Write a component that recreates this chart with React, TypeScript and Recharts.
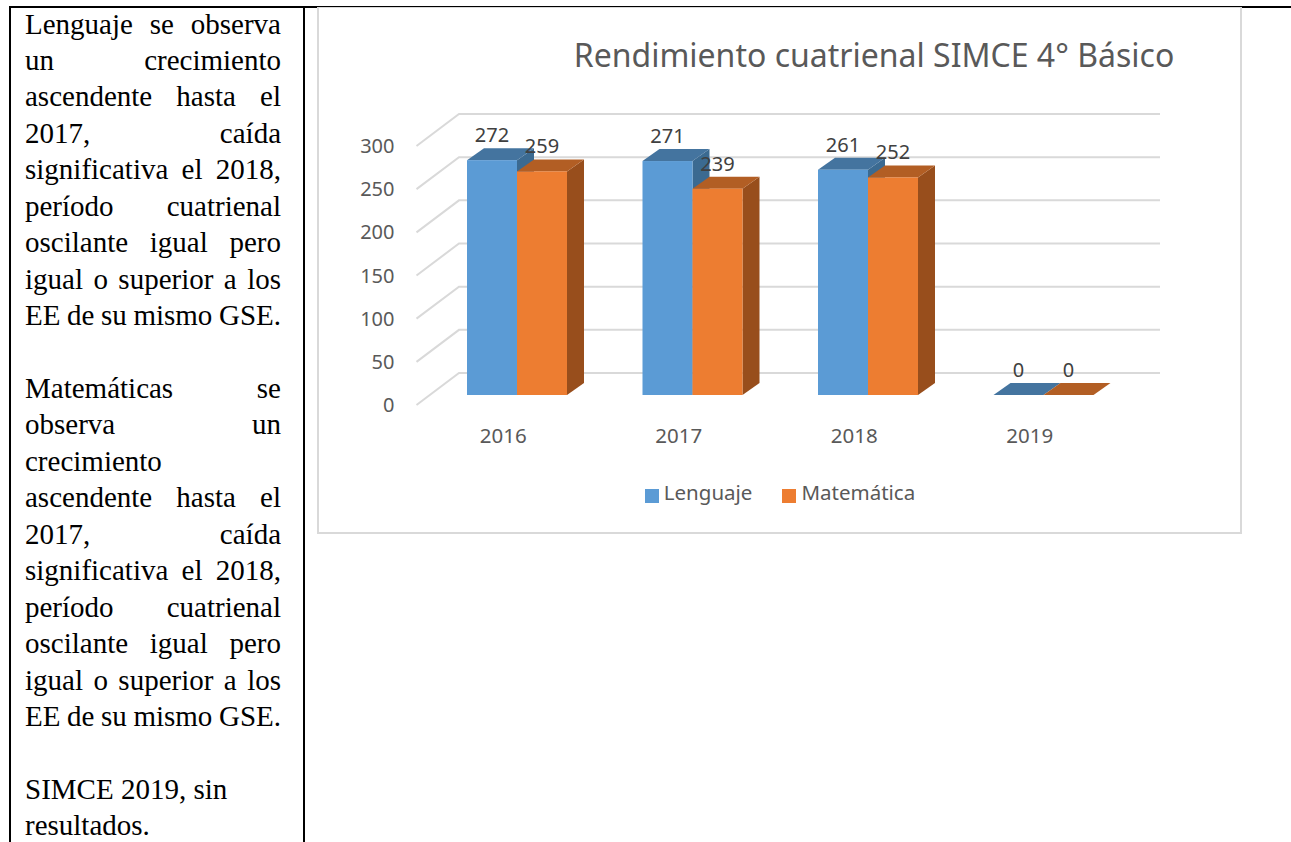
import { BarChart, Bar, XAxis, YAxis, CartesianGrid, LabelList, Legend } from 'recharts'

const years = ['2016', '2017', '2018', '2019']
const lenguaje = [272, 271, 261, 0]
const matematica = [259, 239, 252, 0]
const yTicks = [0, 50, 100, 150, 200, 250, 300]

const data = years.map((year, i) => ({
    year,
    Lenguaje: lenguaje[i],
    Matemática: matematica[i],
}))

// text of the table cell on the left, [line, justified]
const cellLines: [string, boolean][] = [
    ['Lenguaje se observa', true],
    ['un crecimiento', true],
    ['ascendente hasta el', true],
    ['2017, caída', true],
    ['significativa el 2018,', true],
    ['período cuatrienal', true],
    ['oscilante igual pero', true],
    ['igual o superior a los', true],
    ['EE de su mismo GSE.', true],
    ['', false],
    ['Matemáticas se', true],
    ['observa un', true],
    ['crecimiento', false],
    ['ascendente hasta el', true],
    ['2017, caída', true],
    ['significativa el 2018,', true],
    ['período cuatrienal', true],
    ['oscilante igual pero', true],
    ['igual o superior a los', true],
    ['EE de su mismo GSE.', true],
    ['', false],
    ['SIMCE 2019, sin', false],
    ['resultados.', false],
]

const CHART_FONT = '"Noto Sans", sans-serif'
const DEPTH_X = 17
const DEPTH_Y = 12

function Bar3D({ x, y, width, height, fill, topFill, sideFill }: any) {
    const right = x + width
    const bottom = y + height
    return (
        <g>
            <polygon
                points={`${right},${y} ${right + DEPTH_X},${y - DEPTH_Y} ${right + DEPTH_X},${bottom - DEPTH_Y} ${right},${bottom}`}
                fill={sideFill}
            />
            <polygon
                points={`${x},${y} ${x + DEPTH_X},${y - DEPTH_Y} ${right + DEPTH_X},${y - DEPTH_Y} ${right},${y}`}
                fill={topFill}
            />
            <rect x={x} y={y} width={width} height={height} fill={fill} />
        </g>
    )
}

// wall and floor line of the fake 3D grid
function gridLine({ x1, x2, y1 }: any) {
    return (
        <path
            key={y1}
            d={`M${x1 - 13},${y1 + 10} L${x1 + 29.5},${y1 - 22} L${x2 + 28.5},${y1 - 22}`}
            fill="none"
            stroke="#d9d9d9"
            strokeWidth={2}
        />
    )
}

function YTick({ x, y, payload }: any) {
    return (
        <text x={x} y={y} dx={-27} dy={17} textAnchor="end" fontSize={20} fill="#595959" fontFamily={CHART_FONT}>
            {payload.value}
        </text>
    )
}

function XTick({ x, y, payload }: any) {
    return (
        <text x={x - 14} y={y} dy={40} textAnchor="middle" fontSize={20.5} fill="#595959" fontFamily={CHART_FONT}>
            {payload.value}
        </text>
    )
}

export default function App() {
    return (
        <div style={{ position: 'absolute', left: 0, top: 0, width: 1291, height: 842, overflow: 'hidden', background: '#fff' }}>
            {/* table rules */}
            <div style={{ position: 'absolute', left: 9, top: 6, width: 1282, height: 2, background: '#000' }} />
            <div style={{ position: 'absolute', left: 9, top: 6, width: 2, height: 836, background: '#000' }} />
            <div style={{ position: 'absolute', left: 303, top: 6, width: 2, height: 836, background: '#000' }} />

            {cellLines.map(([line, justified], i) => (
                <div
                    key={i}
                    style={{
                        position: 'absolute',
                        left: 25,
                        top: 5.5 + i * 36.45,
                        width: 256,
                        height: 36,
                        lineHeight: '36px',
                        fontFamily: '"Liberation Serif", serif',
                        fontSize: 29,
                        color: '#000',
                        whiteSpace: justified ? 'normal' : 'nowrap',
                        wordSpacing: line.startsWith('EE') ? -1 : 0,
                        textAlign: 'left',
                        textAlignLast: justified ? 'justify' : 'left',
                    }}
                >
                    {line}
                </div>
            ))}

            {/* chart frame */}
            <div style={{ position: 'absolute', left: 317, top: 7, width: 925, height: 527, boxSizing: 'border-box', border: '2px solid #d9d9d9', borderTopWidth: 1, background: '#fff' }} />

            <div
                style={{
                    position: 'absolute',
                    left: 474,
                    width: 800,
                    top: 36,
                    textAlign: 'center',
                    fontFamily: CHART_FONT,
                    fontSize: 32,
                    lineHeight: '38px',
                    color: '#595959',
                    whiteSpace: 'nowrap',
                }}
            >
                Rendimiento cuatrienal SIMCE 4° Básico
            </div>

            <div style={{ position: 'absolute', left: 0, top: 0 }}>
                <BarChart
                    width={1291}
                    height={842}
                    data={data}
                    margin={{ top: 136, right: 159.5, bottom: 446, left: 428.5 }}
                    barCategoryGap={37.5}
                    barGap={0}
                >
                    <CartesianGrid vertical={false} horizontal={gridLine} />
                    <XAxis dataKey="year" height={1} axisLine={false} tickLine={false} tick={<XTick />} />
                    <YAxis width={1} domain={[0, 300]} ticks={yTicks} axisLine={false} tickLine={false} tick={<YTick />} />
                    <Legend
                        layout="horizontal"
                        verticalAlign="middle"
                        iconType="square"
                        iconSize={14}
                        wrapperStyle={{ position: 'absolute', left: 635, top: 478, width: 320, right: 'auto', bottom: 'auto', textAlign: 'left' }}
                        formatter={(value: string) => (
                            <span style={{ color: '#595959', fontFamily: CHART_FONT, fontSize: 20.5, marginLeft: 1, marginRight: 20 }}>{value}</span>
                        )}
                    />
                    <Bar
                        dataKey="Lenguaje"
                        fill="#5b9bd5"
                        isAnimationActive={false}
                        shape={<Bar3D topFill="#44749f" sideFill="#3b6a91" />}
                    >
                        <LabelList dataKey="Lenguaje" position="top" offset={18} fontSize={20} fill="#404040" fontFamily={CHART_FONT} />
                    </Bar>
                    <Bar
                        dataKey="Matemática"
                        fill="#ed7d31"
                        isAnimationActive={false}
                        shape={<Bar3D topFill="#b25e24" sideFill="#984e1c" />}
                    >
                        <LabelList dataKey="Matemática" position="top" offset={18} fontSize={20} fill="#404040" fontFamily={CHART_FONT} />
                    </Bar>
                </BarChart>
            </div>
        </div>
    )
}
